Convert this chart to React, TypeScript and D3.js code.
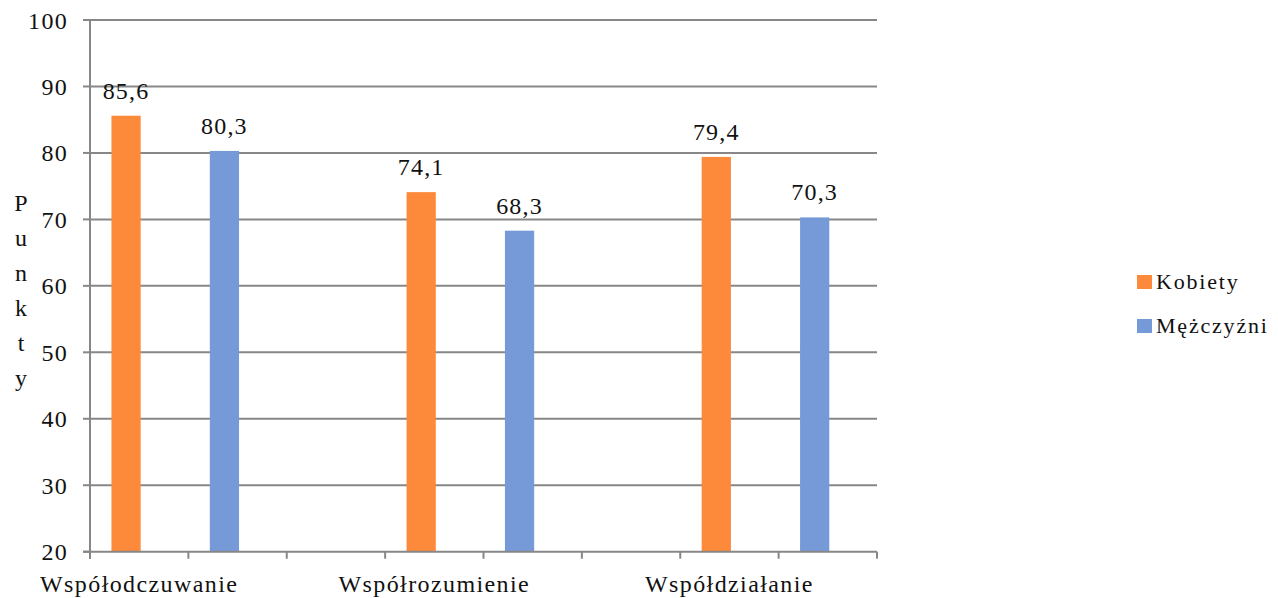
import { useEffect, useRef } from "react";
import * as d3 from "d3";

// categories (only every third slot carries a label, like the original sheet)
const groups = ["Współodczuwanie", "Współrozumienie", "Współdziałanie"];
const kobiety = [85.6, 74.1, 79.4];
const mezczyzni = [80.3, 68.3, 70.3];
const seriesNames = ["Kobiety", "Mężczyźni"];
const yTicks = [20, 30, 40, 50, 60, 70, 80, 90, 100];
const axisTitle = "Punkty";

const WIDTH = 1278;
const HEIGHT = 598;
const COLORS = ["#fd8a3b", "#7699d8"];
const GRID = "#878787";
const FONT = "'Liberation Serif', 'Times New Roman', serif";
const SLOTS = 8;

export default function App() {
  const ref = useRef<SVGSVGElement | null>(null);

  useEffect(() => {
    const svg = d3.select(ref.current);
    svg.selectAll("*").remove();

    const x = d3
      .scaleBand<number>()
      .domain(d3.range(SLOTS))
      .range([90, 877]);
    const bw = x.bandwidth();

    const y = d3.scaleLinear().domain([20, 100]).range([551.7, 20]);

    // gridlines
    svg
      .append("g")
      .selectAll("line")
      .data(yTicks.slice(1))
      .join("line")
      .attr("x1", 90)
      .attr("x2", 877)
      .attr("y1", (d) => y(d))
      .attr("y2", (d) => y(d))
      .attr("stroke", GRID)
      .attr("stroke-width", 2);

    // bars
    const bars = groups.flatMap((g, i) => [
      { slot: i * 3, value: kobiety[i], s: 0 },
      { slot: i * 3 + 1, value: mezczyzni[i], s: 1 },
    ]);

    svg
      .append("g")
      .selectAll("rect")
      .data(bars)
      .join("rect")
      .attr("x", (d) => (x(d.slot) as number) + bw * 0.218)
      .attr("width", bw * 0.297)
      .attr("y", (d) => y(d.value))
      .attr("height", (d) => y(20) - y(d.value))
      .attr("fill", (d) => COLORS[d.s]);

    // data labels
    svg
      .append("g")
      .selectAll("text")
      .data(bars)
      .join("text")
      .attr("x", (d) => (x(d.slot) as number) + bw * 0.218 + (bw * 0.297) / 2)
      .attr("y", (d) => y(d.value) - 17)
      .attr("text-anchor", "middle")
      .attr("font-family", FONT)
      .attr("font-size", 24)
      .attr("letter-spacing", 1.2)
      .attr("fill", "#111")
      .text((d) => d.value.toFixed(1).replace(".", ","));

    // y axis
    const ya = svg.append("g");
    ya.append("line")
      .attr("x1", 90)
      .attr("x2", 90)
      .attr("y1", y(100))
      .attr("y2", y(20) + 7)
      .attr("stroke", GRID)
      .attr("stroke-width", 2);
    ya.selectAll("line.tick")
      .data(yTicks)
      .join("line")
      .attr("class", "tick")
      .attr("x1", 83)
      .attr("x2", 90)
      .attr("y1", (d) => y(d))
      .attr("y2", (d) => y(d))
      .attr("stroke", GRID)
      .attr("stroke-width", 2);
    ya.selectAll("text")
      .data(yTicks)
      .join("text")
      .attr("x", 68)
      .attr("y", (d) => y(d) + 8.5)
      .attr("text-anchor", "end")
      .attr("font-family", FONT)
      .attr("font-size", 24)
      .attr("letter-spacing", 1.3)
      .attr("fill", "#111")
      .text((d) => d);

    // x axis
    const xa = svg.append("g");
    xa.append("line")
      .attr("x1", 83)
      .attr("x2", 877)
      .attr("y1", y(20))
      .attr("y2", y(20))
      .attr("stroke", GRID)
      .attr("stroke-width", 2);
    const tickXs = [...d3.range(SLOTS).map((i) => x(i) as number), 877];
    xa.selectAll("line.tick")
      .data(tickXs)
      .join("line")
      .attr("class", "tick")
      .attr("x1", (d) => d)
      .attr("x2", (d) => d)
      .attr("y1", y(20))
      .attr("y2", y(20) + 7)
      .attr("stroke", GRID)
      .attr("stroke-width", 2);
    xa.selectAll("text")
      .data(groups)
      .join("text")
      .attr("x", (_, i) => (x(i * 3) as number) + bw / 2)
      .attr("y", 592)
      .attr("text-anchor", "middle")
      .attr("font-family", FONT)
      .attr("font-size", 24)
      .attr("letter-spacing", 1.4)
      .attr("fill", "#111")
      .text((d) => d);

    // vertical axis title, one letter per line
    svg
      .append("g")
      .selectAll("text")
      .data(axisTitle.split(""))
      .join("text")
      .attr("x", 21)
      .attr("y", (_, i) => 211 + i * 35)
      .attr("text-anchor", "middle")
      .attr("font-family", FONT)
      .attr("font-size", 24)
      .attr("fill", "#111")
      .text((d) => d);

    // legend
    const lg = svg
      .append("g")
      .selectAll("g")
      .data(seriesNames)
      .join("g")
      .attr("transform", (_, i) => `translate(1137,${275 + i * 44})`);
    lg.append("rect")
      .attr("width", 15)
      .attr("height", 14)
      .attr("fill", (_, i) => COLORS[i]);
    lg.append("text")
      .attr("x", 19)
      .attr("y", 14)
      .attr("font-family", FONT)
      .attr("font-size", 22)
      .attr("letter-spacing", 1.8)
      .attr("fill", "#111")
      .text((d) => d);
  }, []);

  return (
    <svg
      ref={ref}
      width={WIDTH}
      height={HEIGHT}
      style={{ position: "absolute", left: 0, top: 0, background: "#fff" }}
    />
  );
}
